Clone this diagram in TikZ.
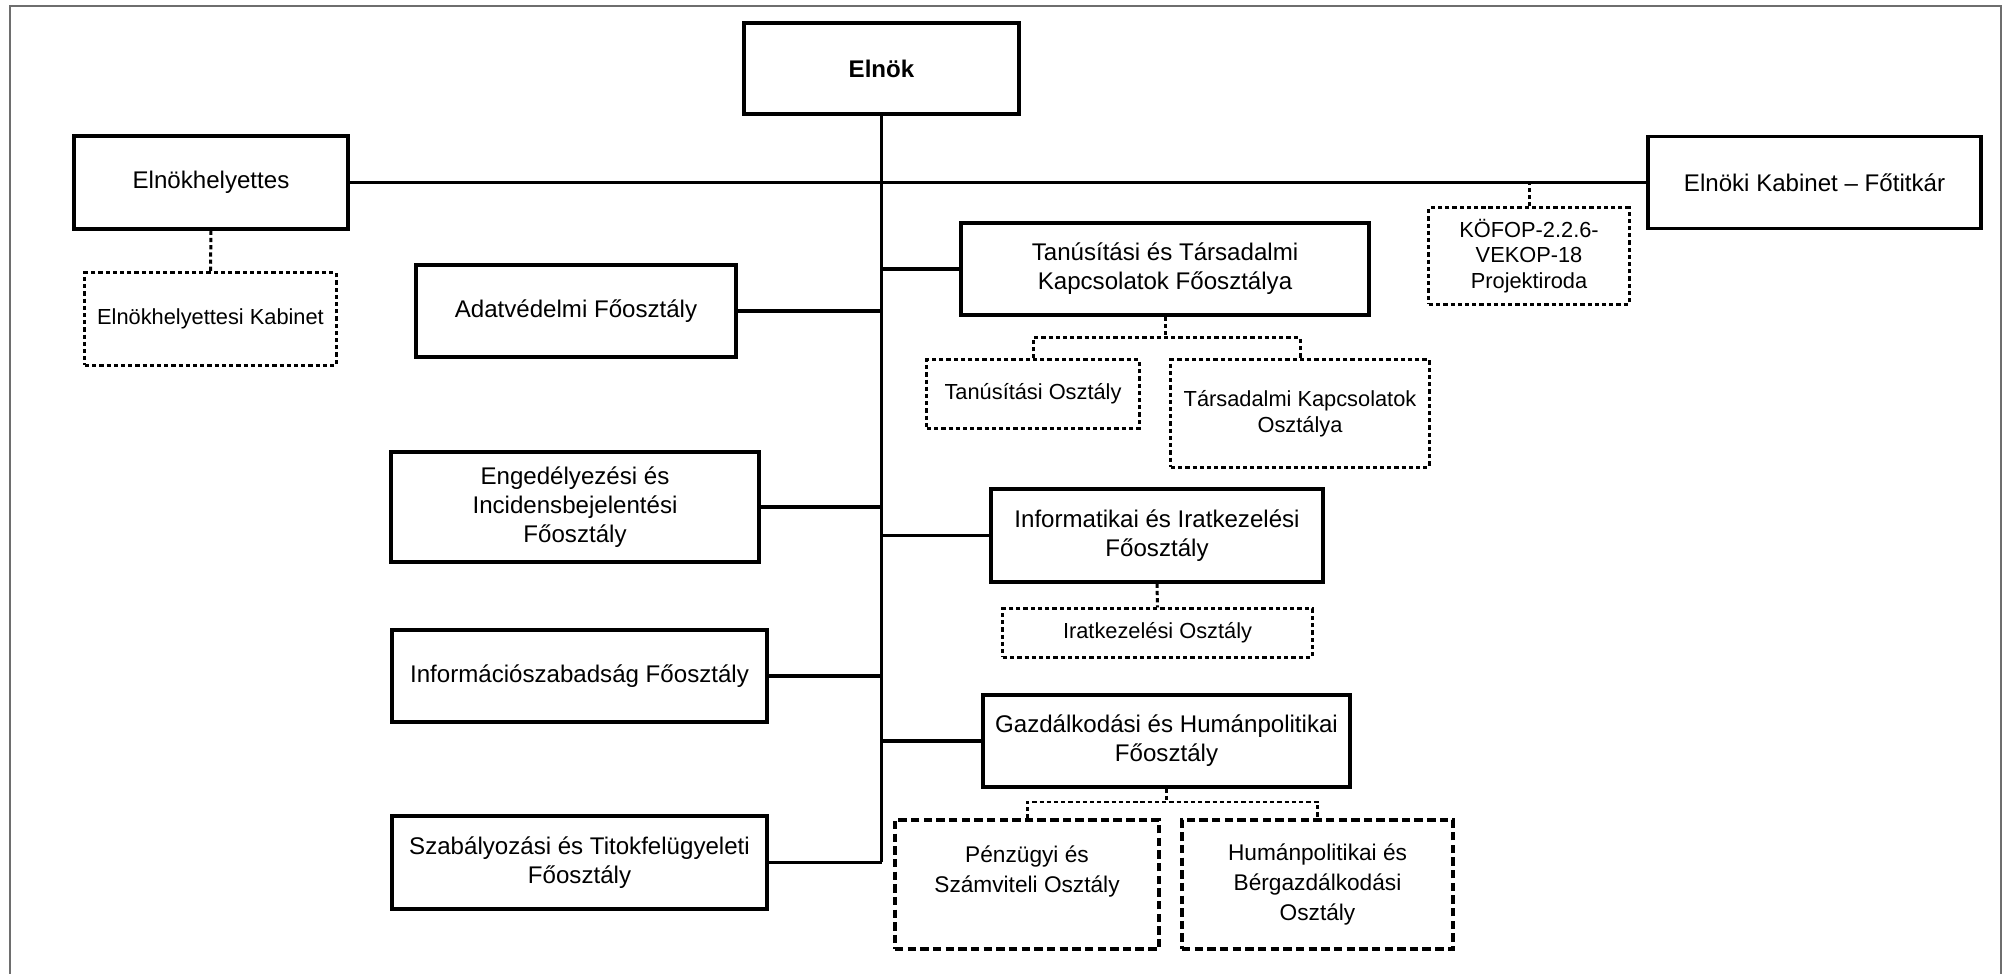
\documentclass[tikz,border=0pt]{standalone}
\usepackage{fontspec}
\setmainfont{Liberation Sans}
\usepackage{xcolor}
\usetikzlibrary{positioning,calc}
\definecolor{ink}{HTML}{000000}
\definecolor{framegray}{HTML}{6E6E6E}
\newcommand\unitfont{\fontsize{6.85}{8.3}\selectfont}
\newcommand\subfont{\fontsize{6.2}{7.3}\selectfont}
\newcommand\subfontwide{\fontsize{6.45}{8.5}\selectfont}
\tikzset{
  unit/.style={rectangle, draw=ink, line width=0.95pt, align=center, inner sep=2pt, font=\unitfont},
  subunit/.style={rectangle, draw=ink, line width=0.85pt, dash pattern=on 1.2pt off 0.85pt, align=center, inner sep=2pt, font=\subfont},
  subunitwide/.style={rectangle, draw=ink, line width=0.95pt, dash pattern=on 2.4pt off 1.2pt, align=center, inner sep=2pt, font=\subfontwide},
  link/.style={draw=ink, line width=0.95pt},
  dashlink/.style={draw=ink, line width=0.85pt, dash pattern=on 1.2pt off 0.85pt}
}

\begin{document}
\begin{tikzpicture}[x=0.01cm, y=-0.01cm,
  chief/.style={unit, font=\unitfont\bfseries}
]
  \useasboundingbox (0,0) rectangle (2007,974);
  \draw[framegray, line width=0.45pt] (10,980) -- (10,6) -- (2001,6) -- (2001,980);

  \node[chief, minimum width=2.75cm, minimum height=0.91cm] (elnok) at (881.5,68.5) {Elnök};
  \node[unit, minimum width=2.74cm, minimum height=0.93cm] (helyettes) at (211,182.5) {Elnökhelyettes};
  \node[unit, minimum width=3.33cm, minimum height=0.92cm] (kabinet) at (1814.5,182.5) {Elnöki Kabinet -- Főtitkár};
  \node[subunit, minimum width=2.51cm, minimum height=0.92cm] (hkabinet) at (210.5,319) {Elnökhelyettesi Kabinet};
  \node[subunit, minimum width=2.0cm, minimum height=0.96cm] (projekt) at (1529,256) {KÖFOP-2.2.6-\\VEKOP-18\\Projektiroda};

  \node[unit, minimum width=3.2cm, minimum height=0.92cm] (adat) at (576,311) {Adatvédelmi Főosztály};
  \node[unit, minimum width=3.68cm, minimum height=1.1cm] (enged) at (575,507) {Engedélyezési és\\Incidensbejelentési\\Főosztály};
  \node[unit, minimum width=3.75cm, minimum height=0.92cm] (infoszab) at (579.5,676) {Információszabadság Főosztály};
  \node[unit, minimum width=3.75cm, minimum height=0.93cm] (szab) at (579.5,862.5) {Szabályozási és Titokfelügyeleti\\Főosztály};

  \node[unit, minimum width=4.08cm, minimum height=0.92cm] (tanus) at (1165,269) {Tanúsítási és Társadalmi\\Kapcsolatok Főosztálya};
  \node[subunit, minimum width=2.12cm, minimum height=0.68cm] (tanosz) at (1033,394) {Tanúsítási Osztály};
  \node[subunit, minimum width=2.58cm, minimum height=1.07cm] (tarsosz) at (1300,413.5) {Társadalmi Kapcsolatok\\Osztálya};
  \node[unit, minimum width=3.32cm, minimum height=0.93cm] (inform) at (1157,535.5) {Informatikai és Iratkezelési\\Főosztály};
  \node[subunit, minimum width=3.09cm, minimum height=0.48cm] (iratosz) at (1157.5,633) {Iratkezelési Osztály};
  \node[unit, minimum width=3.67cm, minimum height=0.92cm] (gazd) at (1166.5,741) {Gazdálkodási és Humánpolitikai\\Főosztály};
  \node[subunitwide, minimum width=2.64cm, minimum height=1.29cm] (penz) at (1027,884.5) {Pénzügyi és\\Számviteli Osztály\\\mbox{}};
  \node[subunitwide, minimum width=2.71cm, minimum height=1.29cm] (human) at (1317.5,884.5) {Humánpolitikai és\\Bérgazdálkodási\\Osztály};

  \coordinate (trunkend) at (881.5,862.5);
  \coordinate (tanfork) at (1165,338);
  \coordinate (gazdfork) at (1166.5,802);

  \draw[link] (elnok.south) -- (trunkend);
  \draw[link] (helyettes.east) -- (kabinet.west);
  \draw[link] (adat.east) -- (adat.east -| trunkend);
  \draw[link] (enged.east) -- (enged.east -| trunkend);
  \draw[link] (infoszab.east) -- (infoszab.east -| trunkend);
  \draw[link] (szab.east) -- (trunkend);
  \draw[link] (tanus.west) -- (tanus.west -| trunkend);
  \draw[link] (inform.west) -- (inform.west -| trunkend);
  \draw[link] (gazd.west) -- (gazd.west -| trunkend);

  \draw[dashlink] (helyettes.south) -- (hkabinet.north);
  \draw[dashlink] (projekt.north) -- (projekt.north |- kabinet.west);
  \draw[dashlink] (tanus.south) -- (tanfork);
  \draw[dashlink] (tanosz.north) |- (tanfork) -| (tarsosz.north);
  \draw[dashlink] (inform.south) -- (iratosz.north);
  \draw[dashlink] (gazd.south) -- (gazdfork);
  \draw[dashlink] (penz.north) |- (gazdfork) -| (human.north);
\end{tikzpicture}
\end{document}
